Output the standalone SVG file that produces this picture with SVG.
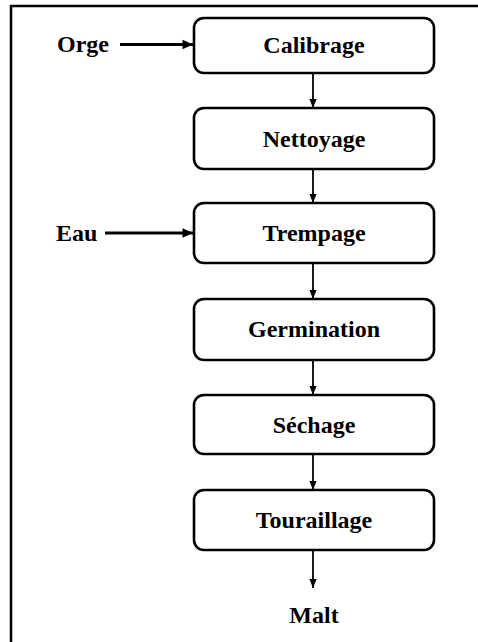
<svg xmlns="http://www.w3.org/2000/svg" width="478" height="642" viewBox="0 0 478 642">
<defs>
<style>
.box{fill:#fff;stroke:#000;stroke-width:2.6}
.t{font-family:"Liberation Serif","Times New Roman",serif;font-weight:bold;font-size:24px;fill:#000;text-anchor:middle}
.tl{font-family:"Liberation Serif","Times New Roman",serif;font-weight:bold;font-size:24px;fill:#000;text-anchor:start}
.v{stroke:#000;stroke-width:1.8;fill:none;marker-end:url(#ah)}
.h{stroke:#000;stroke-width:3;fill:none;marker-end:url(#ahb)}
</style>
<marker id="ah" viewBox="0 0 10 10" refX="10" refY="5" markerWidth="5" markerHeight="5" markerUnits="strokeWidth" orient="auto">
<path d="M0,1 L10,5 L0,9 z" fill="#000"/>
</marker>
<marker id="ahb" viewBox="0 0 10 10" refX="10" refY="5" markerWidth="4" markerHeight="3.5" markerUnits="strokeWidth" orient="auto">
<path d="M0,0.5 L10,5 L0,9.5 z" fill="#000"/>
</marker>
</defs>
<rect x="11" y="6" width="490" height="660" fill="#fff" stroke="#000" stroke-width="2.5"/>
<g id="connectors">
<line class="h" x1="120" y1="44.5" x2="193" y2="44.5"/>
<line class="h" x1="105" y1="233" x2="193" y2="233"/>
<line class="v" x1="313" y1="74" x2="313" y2="108"/>
<line class="v" x1="313" y1="170" x2="313" y2="203"/>
<line class="v" x1="313" y1="264" x2="313" y2="299"/>
<line class="v" x1="313" y1="361" x2="313" y2="395"/>
<line class="v" x1="313" y1="455" x2="313" y2="490"/>
<line class="v" x1="313" y1="551" x2="313" y2="588"/>
</g>
<g id="orge"><text class="tl" x="57" y="52">Orge</text></g>
<g id="eau"><text class="tl" x="56" y="241">Eau</text></g>
<g id="calibrage"><rect class="box" x="194" y="18" width="240" height="55" rx="10"/><text class="t" x="314" y="53">Calibrage</text></g>
<g id="nettoyage"><rect class="box" x="194" y="108" width="240" height="61" rx="10"/><text class="t" x="314" y="147">Nettoyage</text></g>
<g id="trempage"><rect class="box" x="194" y="203" width="240" height="60" rx="10"/><text class="t" x="314" y="241">Trempage</text></g>
<g id="germination"><rect class="box" x="194" y="299" width="240" height="61" rx="10"/><text class="t" x="314" y="337">Germination</text></g>
<g id="sechage"><rect class="box" x="194" y="395" width="240" height="59" rx="10"/><text class="t" x="314" y="433">Séchage</text></g>
<g id="touraillage"><rect class="box" x="194" y="490" width="240" height="60" rx="10"/><text class="t" x="314" y="528">Touraillage</text></g>
<g id="malt"><text class="t" x="314" y="623">Malt</text></g>
</svg>
